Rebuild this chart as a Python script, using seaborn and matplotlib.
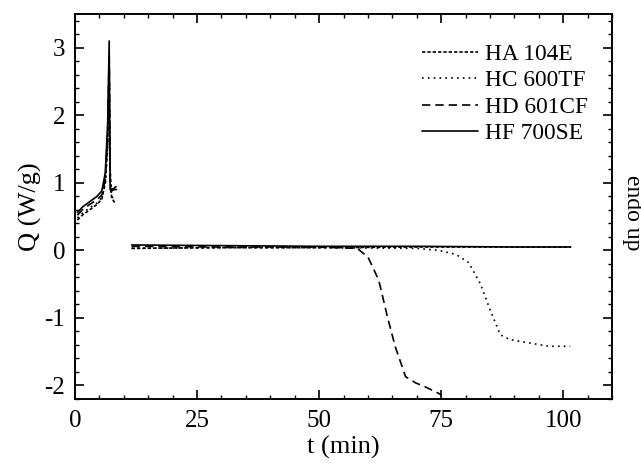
#!/usr/bin/env python3
"""DSC heat flow curves Q(t) for four grades."""

import numpy as np
import pandas as pd
import matplotlib
matplotlib.use("Agg")
import matplotlib.pyplot as plt
from matplotlib.ticker import MultipleLocator
import seaborn as sns

# ── data ───────────────────────────────────────────────────────────────────
GRADES = ["HA 104E", "HC 600TF", "HD 601CF", "HF 700SE"]

# first (heating) segment, t in min
T1 = [0.5, 1.5, 3.0, 4.5, 5.5, 6.2, 6.7, 7.0, 7.2, 7.5, 8.0, 8.5]
Q1_HA = [0.45, 0.52, 0.60, 0.68, 0.76, 1.00, 1.60, 2.80, 1.20, 0.78, 0.72, 0.70]
Q1_HC = [0.48, 0.55, 0.63, 0.70, 0.78, 1.00, 1.50, 2.10, 1.00, 0.80, 0.76, 0.74]
Q1_HD = [0.52, 0.60, 0.68, 0.75, 0.82, 1.05, 1.70, 2.90, 1.00, 0.90, 0.92, 0.95]
Q1_HF = [0.56, 0.64, 0.72, 0.80, 0.88, 1.15, 1.90, 3.10, 0.90, 0.88, 0.90, 0.90]

# second (isothermal) segment
T2_HA = [11.6, 30, 50, 70, 90, 101.5]
Q2_HA = [0.03, 0.04, 0.04, 0.05, 0.05, 0.05]
T2_HC = [11.6, 30, 50, 70, 74.5, 78, 80.6, 83, 85, 87.1, 89, 92.2, 97, 101.4]
Q2_HC = [0.03, 0.04, 0.04, 0.03, 0.00, -0.06, -0.18, -0.49, -0.88, -1.25,
         -1.32, -1.36, -1.42, -1.42]
T2_HD = [11.6, 30, 50, 57.8, 60, 62.2, 64, 65.6, 67.7, 69.7, 72, 75.1]
Q2_HD = [0.06, 0.05, 0.05, 0.03, -0.10, -0.44, -0.99, -1.43, -1.87, -1.96,
         -2.03, -2.14]
T2_HF = [11.6, 30, 50, 70, 90, 101.5]
Q2_HF = [0.08, 0.07, 0.06, 0.06, 0.05, 0.05]

SEGMENTS = {
    "HA 104E":  [(T1, Q1_HA), (T2_HA, Q2_HA)],
    "HC 600TF": [(T1, Q1_HC), (T2_HC, Q2_HC)],
    "HD 601CF": [(T1, Q1_HD), (T2_HD, Q2_HD)],
    "HF 700SE": [(T1, Q1_HF), (T2_HF, Q2_HF)],
}

DASHES = {
    "HA 104E":  (0, (2.0, 1.2)),
    "HC 600TF": (0, (1.0, 2.5)),
    "HD 601CF": (0, (5.0, 3.0)),
    "HF 700SE": "-",
}

# ── style ──────────────────────────────────────────────────────────────────
sns.set_theme(style="ticks")
plt.rcParams["font.family"] = ["Liberation Serif", "DejaVu Serif"]
plt.rcParams["axes.unicode_minus"] = False
plt.rcParams["text.color"] = "black"
plt.rcParams["axes.labelcolor"] = "black"

fig = plt.figure(figsize=(6.41, 4.65), dpi=100)
ax = fig.add_axes([0.117, 0.142, 0.838, 0.828])

for grade in GRADES:
    for i, (t, q) in enumerate(SEGMENTS[grade]):
        seg = pd.DataFrame({"t": t, "Q": q})
        sns.lineplot(data=seg, x="t", y="Q", ax=ax, color="black",
                     linewidth=1.2, sort=False, estimator=None,
                     linestyle=DASHES[grade],
                     label=grade if i == 0 else None)

ax.set_xlim(0, 110)
ax.set_ylim(-2.2, 3.5)
ax.xaxis.set_major_locator(MultipleLocator(25))
ax.xaxis.set_minor_locator(MultipleLocator(5))
ax.yaxis.set_major_locator(MultipleLocator(1))
ax.yaxis.set_minor_locator(MultipleLocator(0.2))
ax.tick_params(which="both", direction="in", top=True, right=True,
               labelsize=18, color="black", labelcolor="black")
ax.tick_params(which="major", length=6.5, width=1.2)
ax.tick_params(which="minor", length=3, width=1.0)
ax.tick_params(axis="x", which="major", pad=8)
ax.tick_params(axis="y", which="major", pad=7)
for sp in ax.spines.values():
    sp.set_linewidth(1.4)
    sp.set_color("black")

ax.set_xlabel("t (min)", fontsize=19, labelpad=3, color="black")
ax.set_ylabel("Q (W/g)", fontsize=19, labelpad=2, color="black")

ax.text(1.037, 0.483, "endo up", transform=ax.transAxes, rotation=270,
        ha="center", va="center", fontsize=17, color="black")

leg = ax.legend(loc="upper right", frameon=False, fontsize=16.8,
                handlelength=2.4, handletextpad=0.3, labelspacing=0.22,
                borderaxespad=1.0, bbox_to_anchor=(1.015, 1.008))
for txt in leg.get_texts():
    txt.set_color("black")

fig.savefig("out.png", dpi=100)
